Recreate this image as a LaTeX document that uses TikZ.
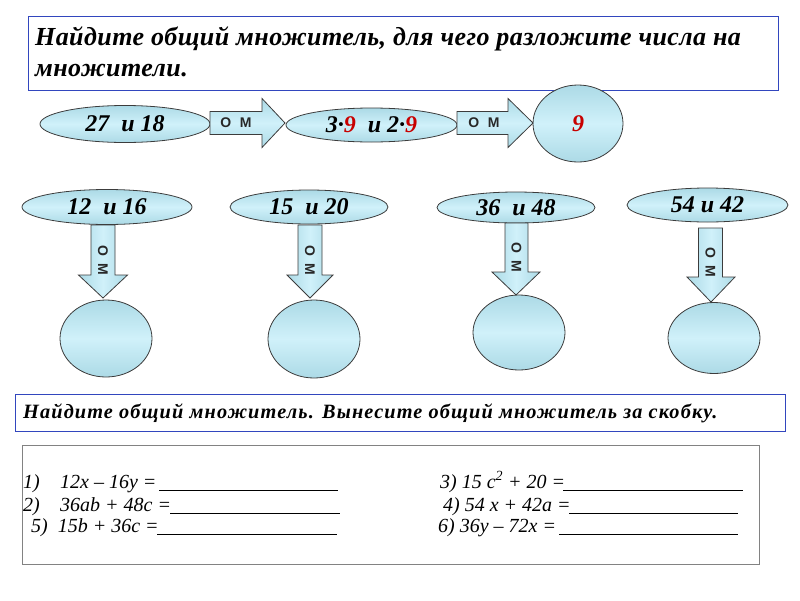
\documentclass[tikz,border=0pt]{standalone}
\usepackage{fontspec}
\setmainfont{Liberation Serif}
\newfontfamily\omfont{Liberation Sans}
\newfontfamily\headfont[LetterSpace=1.6]{Liberation Serif}
\newfontfamily\subfont[LetterSpace=5.5]{Liberation Serif}
\usetikzlibrary{shapes.geometric}
\definecolor{fillmid}{RGB}{208,241,250}
\definecolor{filledge}{RGB}{172,218,230}
\definecolor{bordergray}{RGB}{60,60,60}
\definecolor{boxblue}{RGB}{50,70,190}
\definecolor{boxgray}{RGB}{130,130,130}
\definecolor{redn}{RGB}{200,0,0}
\definecolor{omgray}{RGB}{40,40,40}
\begin{document}
\begin{tikzpicture}[x=1pt,y=-1pt,
  blob/.style={ellipse, draw=bordergray, line width=0.8pt, top color=filledge, bottom color=filledge, middle color=fillmid, inner sep=0pt},
  numtext/.style={font=\fontsize{24}{28}\selectfont\bfseries\itshape},
  blockarrow/.style={draw=bordergray, line width=0.8pt, top color=filledge, bottom color=filledge, middle color=fillmid},
  vblockarrow/.style={draw=bordergray, line width=0.8pt, left color=filledge, right color=filledge, middle color=fillmid},
  omlabel/.style={font=\omfont\fontsize{14}{15}\selectfont\bfseries, text=omgray, inner sep=0pt},
  bluebox/.style={draw=boxblue, line width=1.2pt, fill=white, inner sep=0pt, anchor=north west},
  graybox/.style={draw=boxgray, line width=1.2pt, fill=white, inner sep=0pt, anchor=north west},
  headtext/.style={anchor=base west, inner sep=0pt, font=\headfont\fontsize{26}{30}\selectfont\bfseries\itshape},
  subtext/.style={anchor=base west, inner sep=0pt, font=\subfont\fontsize{20.3}{22}\selectfont\bfseries\itshape},
  rowtext/.style={anchor=base west, inner sep=0pt, font=\fontsize{20}{22}\selectfont\itshape},
  blank/.style={line width=0.9pt, black}
]
\useasboundingbox (0,0) rectangle (800,600);

% top box
\node[bluebox, minimum width=750pt, minimum height=74pt] (top) at (28,16) {};
\node[headtext] (h1) at (35,45) {Найдите общий множитель, для чего разложите числа на};
\node[headtext] (h2) at (35,76) {множители.};

% row 1
\node[blob, minimum width=170pt, minimum height=37pt, numtext] (a1) at (125,124) {27\enspace и 18};
\node[blob, minimum width=171pt, minimum height=34pt, numtext] (a2) at (371.5,125) {3·\textcolor{redn}{9}\enspace и 2·\textcolor{redn}{9}};
\node[blob, minimum width=90pt, minimum height=77pt, numtext, text=redn] (a3) at (578,123.5) {9};

\draw[blockarrow] (210,111.5) -- (262,111.5) -- (262,98.5) -- (285,123) -- (262,147.5) -- (262,134.5) -- (210,134.5) -- cycle;
\node[omlabel] (m1) at (236,123) {О\,\, М};
\draw[blockarrow] (457,111.5) -- (508,111.5) -- (508,98.5) -- (533,123) -- (508,147.5) -- (508,134.5) -- (457,134.5) -- cycle;
\node[omlabel] (m2) at (484,123) {О\,\, М};

% row 2 ellipses
\node[blob, minimum width=170pt, minimum height=35pt, numtext] (b1) at (107,207) {12\enspace и 16};
\node[blob, minimum width=158pt, minimum height=34pt, numtext] (b2) at (309,207) {15\enspace и 20};
\node[blob, minimum width=158pt, minimum height=31pt, numtext] (b3) at (516,207.5) {36\enspace и 48};
\node[blob, minimum width=161pt, minimum height=34pt, numtext] (b4) at (707.5,205) {54 и 42};

% down arrows
\draw[vblockarrow] (91,225) -- (91,275) -- (78.5,275) -- (103,298) -- (127.5,275) -- (115,275) -- (115,225) -- cycle;
\node[omlabel, rotate=-90] (v1) at (103,260) {О\enspace М};
\draw[vblockarrow] (298,225) -- (298,275) -- (287,275) -- (310,298) -- (333,275) -- (322,275) -- (322,225) -- cycle;
\node[omlabel, rotate=-90] (v2) at (310,260) {О\enspace М};
\draw[vblockarrow] (505,223) -- (505,272) -- (492,272) -- (516,295) -- (540,272) -- (528,272) -- (528,223) -- cycle;
\node[omlabel, rotate=-90] (v3) at (516.5,257) {О\enspace М};
\draw[vblockarrow] (698.5,228) -- (698.5,277) -- (687,277) -- (711,302) -- (735,277) -- (722.5,277) -- (722.5,228) -- cycle;
\node[omlabel, rotate=-90] (v4) at (710.5,262) {О\enspace М};

% empty circles
\node[blob, minimum width=92pt, minimum height=77pt] (c1) at (106,338.5) {};
\node[blob, minimum width=92pt, minimum height=78pt] (c2) at (314,339) {};
\node[blob, minimum width=92pt, minimum height=75pt] (c3) at (519,332.5) {};
\node[blob, minimum width=92pt, minimum height=71pt] (c4) at (714,338) {};

% bottom boxes
\node[bluebox, minimum width=770pt, minimum height=37pt] (sub) at (15,394) {};
\node[subtext] (s1) at (23,418) {Найдите общий множитель. Вынесите общий множитель за скобку.};
\node[graybox, minimum width=737pt, minimum height=119pt] (ex) at (22,445) {};

\node[rowtext] (r1n) at (23,488) {1)};
\node[rowtext] (r1) at (60,488) {12x – 16y =};
\draw[blank] (159,490) -- (338,490);
\node[rowtext] (r2n) at (23,511) {2)};
\node[rowtext] (r2) at (60,511) {36ab + 48c =};
\draw[blank] (170,513) -- (340,513);
\node[rowtext] (r5) at (31,532) {5)\enspace 15b + 36c =};
\draw[blank] (157,534) -- (337,534);

\node[rowtext] (r3) at (440,488) {3) 15 c\textsuperscript{2} + 20 =};
\draw[blank] (563,490) -- (743,490);
\node[rowtext] (r4) at (443,511) {4) 54 x + 42a =};
\draw[blank] (569,513) -- (738,513);
\node[rowtext] (r6) at (438,532) {6) 36y – 72x =};
\draw[blank] (559,534) -- (738,534);
\end{tikzpicture}
\end{document}
